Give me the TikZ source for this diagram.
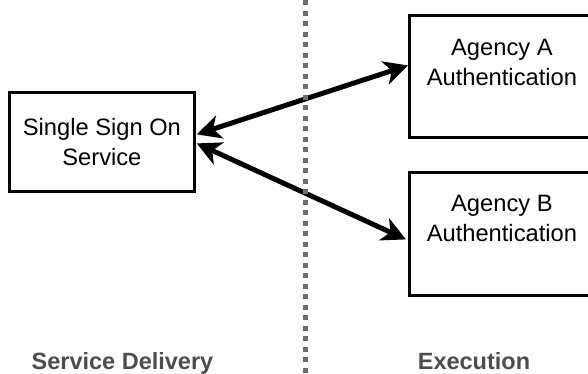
\documentclass[tikz,border=0pt]{standalone}
\usepackage{fontspec}
\setmainfont{Liberation Sans}
\usetikzlibrary{arrows.meta}
\definecolor{labelgray}{HTML}{4D4D4D}
\definecolor{divgray}{HTML}{6E6E6E}
\tikzset{
  box/.style 2 args={draw=black, line width=2.8pt, inner sep=0pt, minimum width=#1, minimum height=#2, anchor=north west},
  boxtext/.style={inner sep=0pt, align=center, font=\fontsize{23.7}{30}\selectfont},
  sidelabel/.style={inner sep=0pt, anchor=base, text=labelgray, font=\fontsize{23.5}{28}\selectfont\bfseries},
  divider/.style={draw=divgray, line width=5pt, dash pattern=on 5pt off 5.5pt},
  link/.style={line width=5pt, {Stealth[length=24pt,width=24pt,inset=7pt]}-{Stealth[length=24pt,width=24pt,inset=7pt]}},
}
\begin{document}
\begin{tikzpicture}[x=1pt,y=-1pt]
\useasboundingbox (0,0) rectangle (588,373);
% boxes
\node[box={185pt}{99pt}] (sso) at (8,91) {};
\node[boxtext] (ssotxt) at (sso.center) {Single Sign On\\Service};
\node[box={185pt}{122pt}] (aga) at (408,14) {};
\node[boxtext, anchor=north] (agatxt) at ([yshift=-25pt]aga.north) {Agency A\\Authentication};
\node[box={185pt}{123pt}] (agb) at (408,171) {};
\node[boxtext, anchor=north] (agbtxt) at ([yshift=-24pt]agb.north) {Agency B\\Authentication};
% links
\coordinate (ssoA) at ([xshift=1pt,yshift=7.5pt]sso.east);
\coordinate (ssoB) at ([xshift=1pt,yshift=-1.5pt]sso.east);
\coordinate (agaL) at ([yshift=11pt]aga.west);
\coordinate (agbL) at ([xshift=-2pt,yshift=-5.5pt]agb.west);
\draw[link] (ssoA) -- (agaL);
\draw[link] (ssoB) -- (agbL);
% divider
\coordinate (divtop) at (305,0);
\coordinate (divbot) at (305,373);
\draw[divider] (divtop) -- (divbot);
% side labels
\node[sidelabel] (sd) at (122.5,369) {Service Delivery};
\node[sidelabel] (ex) at (474,369) {Execution};
\end{tikzpicture}
\end{document}
